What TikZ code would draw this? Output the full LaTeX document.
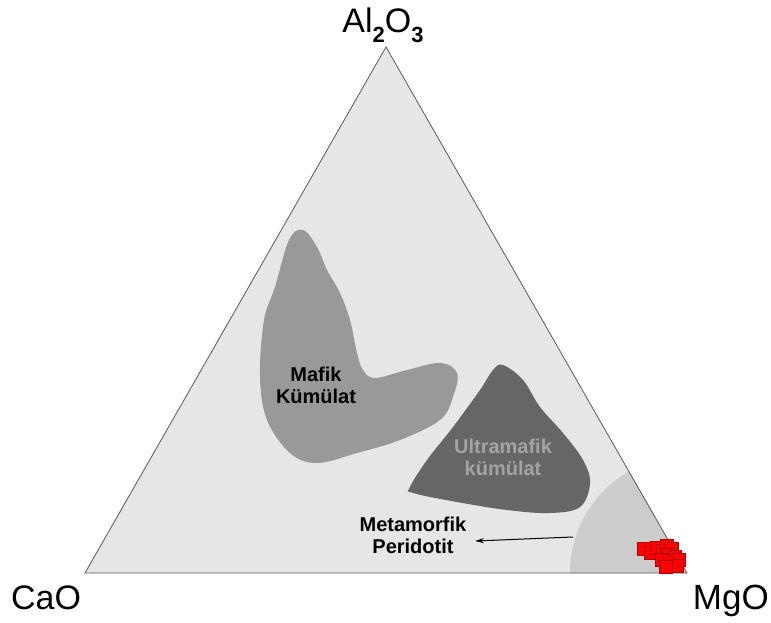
\documentclass[tikz,border=0pt]{standalone}
\usepackage{fontspec}
\setmainfont{Liberation Sans}
\usetikzlibrary{arrows.meta}
\definecolor{tribg}{HTML}{E6E6E6}
\definecolor{metabg}{HTML}{CCCCCC}
\definecolor{mafbg}{HTML}{999999}
\definecolor{ultbg}{HTML}{666666}
\definecolor{ulttx}{HTML}{A3A3A3}
\definecolor{ptfill}{HTML}{FF0000}
\definecolor{ptdraw}{HTML}{B00000}
\tikzset{
  apex/.style={font=\fontsize{34}{34}\selectfont, inner sep=0pt},
  field/.style={font=\fontsize{20}{21.5}\selectfont\bfseries, align=center, inner sep=0pt},
  pt/.style={fill=ptfill, draw=ptdraw, line width=0.6pt},
}
\begin{document}
\begin{tikzpicture}[x=1pt,y=-1pt]
\useasboundingbox (0,0) rectangle (771,623);
\coordinate (A) at (386,47);
\coordinate (C) at (85,573);
\coordinate (M) at (687,573);
% triangle
\fill[tribg] (A) -- (C) -- (M) -- cycle;
\begin{scope}
\clip (A) -- (C) -- (M) -- cycle;
\fill[metabg] (M) circle (117);
\end{scope}
% mafic field
\fill[mafbg] plot[smooth cycle, tension=0.6] coordinates {
 (303,230) (317,247) (327,270) (340,293) (350,320) (357,353) (363,370)
 (375,378) (407,370) (440,363) (457,373) (453,397) (440,420) (400,440)
 (357,453) (317,463) (290,453) (267,420) (260,377) (264,320) (275,287) (289,240)};
% ultramafic field
\fill[ultbg] plot[smooth cycle, tension=0.6] coordinates {
 (503,365) (523,380) (540,407) (563,433) (583,460) (590,483) (580,507)
 (550,513) (507,510) (457,502) (413,493) (410,487) (427,460) (453,427)
 (480,390) (493,370)};
\draw[line width=0.8pt, draw=black!65] (A) -- (C) -- (M) -- cycle;
% labels
\node[apex, anchor=base] (al) at (383,33) {Al\raisebox{-0.28em}{\fontsize{22}{22}\selectfont\bfseries 2}O\raisebox{-0.28em}{\fontsize{22}{22}\selectfont\bfseries 3}};
\node[apex, anchor=base west] (ca) at (11,609) {CaO};
\node[apex, anchor=base east, font=\fontsize{35}{35}\selectfont] (mg) at (769,609) {MgO};
\node[field, anchor=base] (maf) at (316,403) {Mafik\\Kümülat};
\node[field, anchor=base, text=ulttx] (ult) at (503,475) {Ultramafik\\kümülat};
\node[field, anchor=base] (met) at (413,553) {Metamorfik\\Peridotit};
\coordinate (arrs) at (573,537);
\coordinate (arre) at (475,541);
\draw[-{Stealth[length=9pt,width=5pt]}, line width=1pt] (arrs) -- (arre);
% points
\foreach \x/\y in {644/549,651/553,657/548,663/551,667/546,672/549,668/555,
  675/557,662/560,670/561,679/560,677/566,666/567}
  \filldraw[pt] (\x-6.5,\y-6.5) rectangle ++(13,13);
\end{tikzpicture}
\end{document}
